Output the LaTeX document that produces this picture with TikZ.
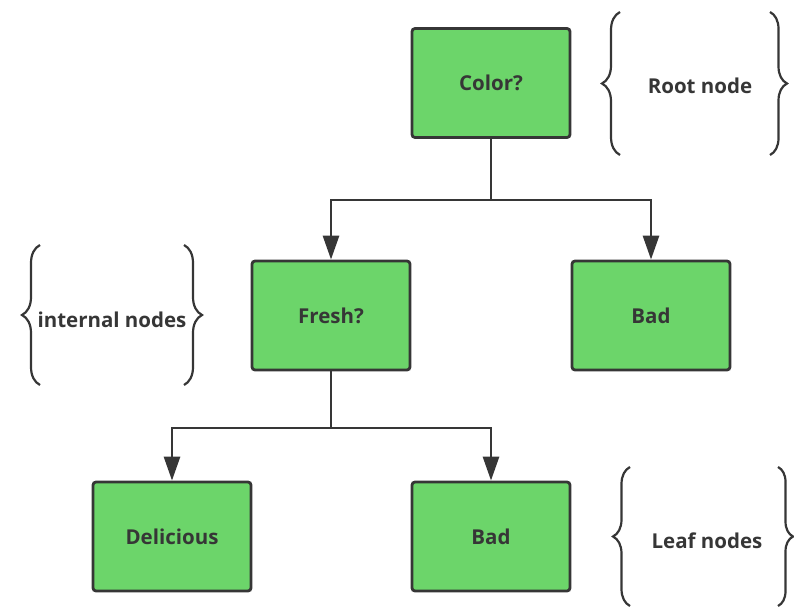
\documentclass[tikz,border=0pt]{standalone}
\usepackage{fontspec}
\setmainfont{Open Sans}
\usetikzlibrary{arrows.meta,decorations.pathreplacing}
\definecolor{ink}{HTML}{363636}
\definecolor{leafgreen}{HTML}{6CD56A}
\begin{document}
\begin{tikzpicture}[x=1pt,y=-1pt,
  box/.style={draw=ink,fill=leafgreen,line width=2.8pt,rounded corners=3pt,
    minimum width=158pt,minimum height=109pt,inner sep=0pt,
    font=\fontsize{20.5}{24}\selectfont\bfseries,text=ink},
  tag/.style={font=\fontsize{20.5}{24}\selectfont\bfseries,text=ink,inner sep=0pt},
  link/.style={draw=ink,line width=2.8pt},
  arr/.style={link,-{Triangle[length=24pt,width=16pt]}},
  bracket/.style={draw=ink,line width=2.2pt,decorate,
    decoration={brace,amplitude=#1,aspect=0.5}}]
\useasboundingbox (0,0) rectangle (794,608);

% decision tree
\node[box] (color) at (491,83) {Color?};
\node[box] (fresh) at (331,315.5) {Fresh?};
\node[box] (bad1)  at (651,315.5) {Bad};
\node[box] (deli)  at (172,536.5) {Delicious};
\node[box] (bad2)  at (491,536.5) {Bad};

\coordinate (split1) at (491,200);
\coordinate (split2) at (331,428);

\draw[link] (color.south) -- (split1);
\draw[arr] (split1) -| (fresh.north);
\draw[arr] (split1) -| (bad1.north);
\draw[link] (fresh.south) -- (split2);
\draw[arr] (split2) -| (deli.north);
\draw[arr] (split2) -| (bad2.north);

% annotation braces
\node[tag] (rootlbl) at (700,86) {Root node};
\draw[bracket=18pt] (620,155) -- (620,12);
\draw[bracket=17pt] (770,12) -- (770,155);

\node[tag] (intlbl) at (112,320) {internal nodes};
\draw[bracket=18pt] (40,385) -- (40,245);
\draw[bracket=18pt] (184,245) -- (184,385);

\node[tag] (leaflbl) at (707,541) {Leaf nodes};
\draw[bracket=17pt] (630,606) -- (630,467);
\draw[bracket=15pt] (778,467) -- (778,606);
\end{tikzpicture}
\end{document}
